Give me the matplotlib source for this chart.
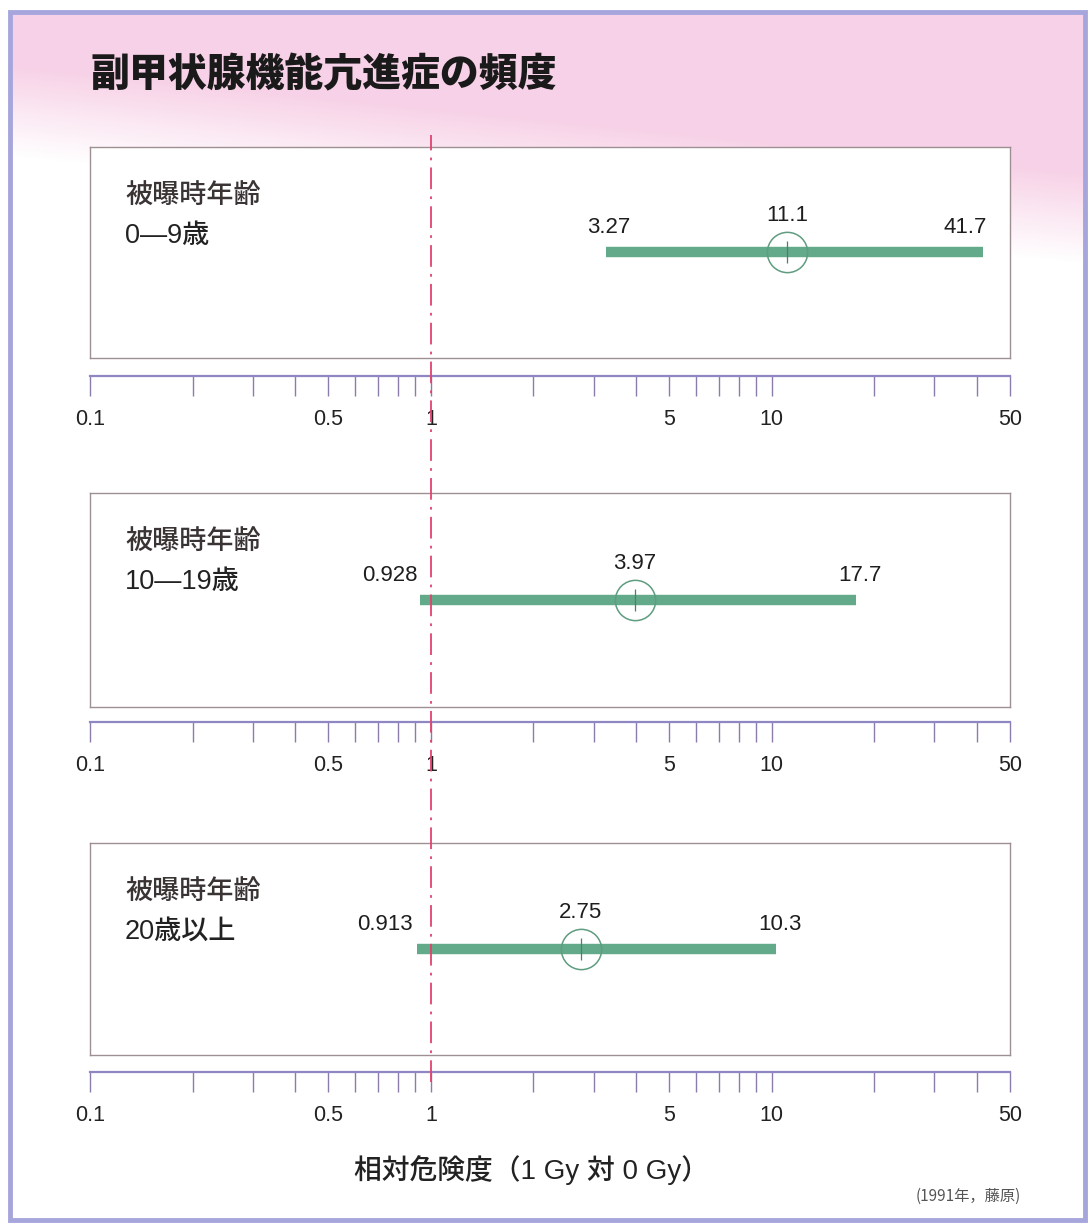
import numpy as np
import matplotlib
matplotlib.use("Agg")
import matplotlib.pyplot as plt
from matplotlib.patches import Rectangle

plt.rcParams['font.family'] = ['Liberation Sans', 'Noto Sans CJK JP', 'DejaVu Sans']

# relative risk (1 Gy vs 0 Gy) by age at exposure
groups = ["0—9歳", "10—19歳", "20歳以上"]
rr_est = [11.1, 3.97, 2.75]
rr_low = [3.27, 0.928, 0.913]
rr_high = [41.7, 17.7, 10.3]

major_ticks = [0.1, 0.5, 1, 5, 10, 50]
major_labels = ["0.1", "0.5", "1", "5", "10", "50"]
minor_ticks = [0.2, 0.3, 0.4, 0.6, 0.7, 0.8, 0.9, 2, 3, 4, 6, 7, 8, 9, 20, 30, 40]

W, H = 1090, 1225
fig = plt.figure(figsize=(W / 100, H / 100), dpi=100)


def px(x0, y0, x1, y1):
    return [x0 / W, 1 - y1 / H, (x1 - x0) / W, (y1 - y0) / H]


# pink wash fading out towards the bottom of the header
bg = fig.add_axes([0, 0, 1, 1], zorder=-10)
bg.set_axis_off()
yy, xx = np.mgrid[0:H, 0:W]
edge = 105 + 0.10 * xx
alpha = np.clip((edge - yy) / 90.0 + 0.55, 0, 1) * 0.92
pink = np.array([247, 206, 229]) / 255.0
img = np.ones((H, W, 3)) * (1 - alpha[..., None]) + pink * alpha[..., None]
bg.imshow(img, extent=[0, W, H, 0], aspect='auto')
bg.set_xlim(0, W)
bg.set_ylim(H, 0)
# white margin outside the frame, then the lavender frame
for r in [(0, 0, W, 12), (0, 0, 9, H), (0, 1221, W, 4), (1086, 0, 4, H)]:
    bg.add_patch(Rectangle((r[0], r[1]), r[2], r[3], color='white', zorder=2))
bg.add_patch(Rectangle((10, 12), 1075, 1208, fill=False, edgecolor='#a6a6dd',
                       linewidth=3.5, zorder=3))

fig.text(90 / W, 1 - 75 / H, "副甲状腺機能亢進症の頻度", fontsize=28, fontweight='heavy',
         family=['Noto Sans CJK JP'], color='#1a1a1a', va='center', ha='left')

panel_tops = [147, 493, 843]
panel_bots = [358, 707, 1055]
axis_ys = [376, 722, 1072]
lo_ha = ['center', 'right', 'right']
lo_dx = [2, -2, -5]
hi_ha = ['right', 'center', 'center']
hi_dx = [4, 4, 4]

green = '#63aa8b'
x_left, x_right = 90, 1010
label_font = ['Liberation Sans', 'Noto Sans CJK JP']

for i in range(3):
    ax = fig.add_axes(px(x_left, panel_tops[i], x_right, panel_bots[i]))
    ax.set_xscale('log')
    ax.set_xlim(0.1, 50)
    ax.set_ylim(0, 1)
    ax.set_xticks([])
    ax.set_yticks([])
    ax.minorticks_off()
    for s in ax.spines.values():
        s.set_color('#9d8f92')
        s.set_linewidth(1.0)

    ph = panel_bots[i] - panel_tops[i]
    ax.text(35 / (x_right - x_left), 1 - 48 / ph, "被曝時年齢",
            transform=ax.transAxes, fontsize=19.5, family=['Noto Sans CJK JP'],
            fontweight='medium', color='#3a3434', va='center')
    ax.text(35 / (x_right - x_left), 1 - 89 / ph, groups[i],
            transform=ax.transAxes, fontsize=19.5, family=label_font,
            fontweight='medium', color='#222222', va='center')

    ax.hlines(0.5, rr_low[i], rr_high[i], color=green, linewidth=7.5)
    ax.plot([rr_est[i]], [0.5], 'o', markersize=29, markerfacecolor='none',
            markeredgecolor='#5f9c80', markeredgewidth=1.1)
    ax.plot([rr_est[i]], [0.5], '|', markersize=16, color='#4e7f69', markeredgewidth=0.9)

    ax.annotate(f"{rr_low[i]:g}", (rr_low[i], 0.5), xytext=(lo_dx[i], 14),
                textcoords='offset pixels', ha=lo_ha[i], va='bottom', fontsize=16, color='#1e1e1e')
    ax.annotate(f"{rr_est[i]:g}", (rr_est[i], 0.5), xytext=(0, 26),
                textcoords='offset pixels', ha='center', va='bottom', fontsize=16, color='#1e1e1e')
    ax.annotate(f"{rr_high[i]:g}", (rr_high[i], 0.5), xytext=(hi_dx[i], 14),
                textcoords='offset pixels', ha=hi_ha[i], va='bottom', fontsize=16, color='#1e1e1e')

    # scale below each panel
    sx = fig.add_axes(px(x_left, axis_ys[i] - 1, x_right, axis_ys[i]))
    sx.set_xscale('log')
    sx.set_xlim(0.1, 50)
    sx.set_yticks([])
    sx.patch.set_alpha(0)
    for k in ['top', 'left', 'right']:
        sx.spines[k].set_visible(False)
    sx.spines['bottom'].set_color('#8f86c4')
    sx.spines['bottom'].set_linewidth(1.6)
    sx.set_xticks(major_ticks)
    sx.set_xticklabels(major_labels)
    sx.set_xticks(minor_ticks, minor=True)
    sx.xaxis.set_minor_formatter(plt.NullFormatter())
    sx.tick_params(axis='x', which='both', direction='out', length=14.5, width=1.0,
                   color='#8c7cab', labelsize=15.5, labelcolor='#222222', pad=9)

# reference line at RR = 1 across all panels
ov = fig.add_axes(px(x_left, 135, x_right, 1082), zorder=5)
ov.set_xscale('log')
ov.set_xlim(0.1, 50)
ov.set_ylim(0, 1)
ov.set_axis_off()
ov.axvline(1, color='#e0436e', linewidth=1.3, dashes=(12, 4, 1.5, 4))

fig.text(532 / W, 1 - 1170 / H, "相対危険度（1 Gy 対 0 Gy）", fontsize=20,
         family=label_font, fontweight='medium', color='#222222', ha='center', va='center')
fig.text(968 / W, 1 - 1196 / H, "(1991年，藤原)", fontsize=11,
         family=['Noto Sans CJK JP'], color='#555555', ha='center', va='center')

fig.savefig("out.png", dpi=100)
